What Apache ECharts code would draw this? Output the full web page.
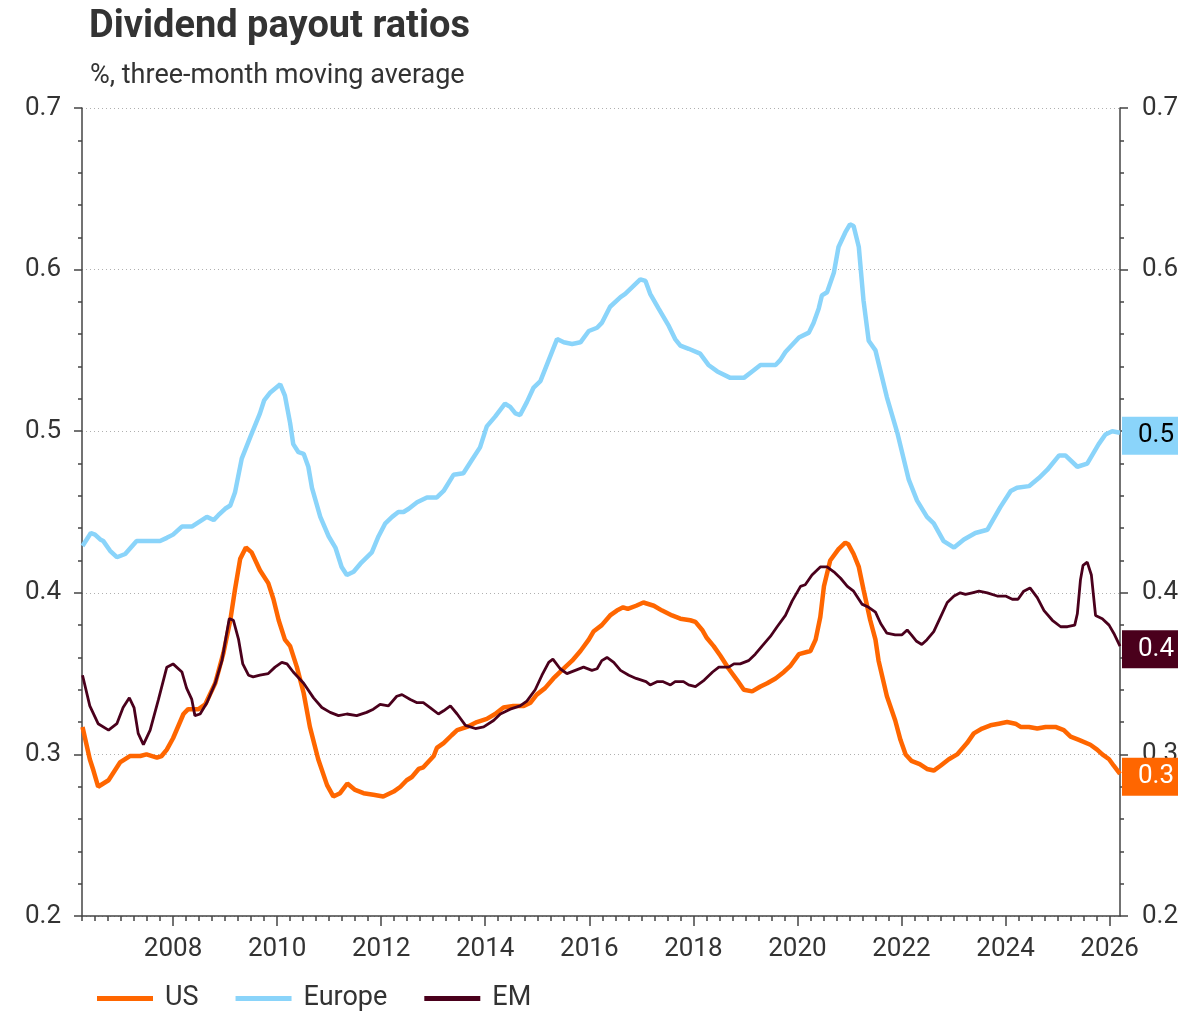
<!DOCTYPE html>
<html>
<head>
<meta charset="utf-8">
<title>Dividend payout ratios</title>
<script src="https://cdn.jsdelivr.net/npm/echarts@6/dist/echarts.min.js"></script>
<style>
  html, body { margin: 0; padding: 0; background: #fff; }
  #chart { width: 1203px; height: 1011px; }
</style>
</head>
<body>
<div id="chart"></div>
<script>
/* Dividend payout ratios, 3m moving average */

var FONT = 'Roboto, "Liberation Sans", sans-serif';

// year labels on the time axis
var yearLabels = [2008, 2010, 2012, 2014, 2016, 2018, 2020, 2022, 2024, 2026];

// US
var usX = [2006.26, 2006.40, 2006.47, 2006.56, 2006.76, 2006.98, 2007.17, 2007.37, 2007.49, 2007.69, 2007.78, 2007.88,
    2008.00, 2008.20, 2008.29, 2008.49, 2008.62, 2008.81, 2008.97, 2009.10, 2009.19, 2009.29, 2009.40, 2009.51,
    2009.67, 2009.83, 2009.93, 2010.03, 2010.15, 2010.25, 2010.38, 2010.51, 2010.63, 2010.79, 2010.96, 2011.08,
    2011.21, 2011.35, 2011.50, 2011.66, 2011.85, 2012.04, 2012.24, 2012.37, 2012.49, 2012.59, 2012.72, 2012.81,
    2013.01, 2013.07, 2013.20, 2013.36, 2013.46, 2013.65, 2013.84, 2014.03, 2014.19, 2014.35, 2014.54, 2014.74,
    2014.87, 2014.99, 2015.15, 2015.31, 2015.47, 2015.67, 2015.83, 2015.99, 2016.08, 2016.24, 2016.40, 2016.53,
    2016.65, 2016.74, 2016.90, 2017.04, 2017.24, 2017.40, 2017.59, 2017.75, 2017.94, 2018.04, 2018.17, 2018.26,
    2018.39, 2018.52, 2018.68, 2018.84, 2018.97, 2019.13, 2019.29, 2019.42, 2019.58, 2019.74, 2019.87, 2020.03,
    2020.25, 2020.35, 2020.44, 2020.51, 2020.63, 2020.79, 2020.92, 2020.98, 2021.08, 2021.18, 2021.27, 2021.40,
    2021.50, 2021.56, 2021.72, 2021.88, 2021.98, 2022.08, 2022.19, 2022.35, 2022.49, 2022.62, 2022.75, 2022.91,
    2023.07, 2023.26, 2023.39, 2023.55, 2023.71, 2023.87, 2024.03, 2024.19, 2024.29, 2024.45, 2024.61, 2024.77,
    2024.96, 2025.12, 2025.25, 2025.41, 2025.63, 2025.76, 2025.86, 2025.99, 2026.08, 2026.20];
var usVals = [0.317, 0.297, 0.290, 0.280, 0.284, 0.295, 0.299, 0.299, 0.300, 0.298, 0.299, 0.303,
    0.310, 0.325, 0.328, 0.328, 0.331, 0.344, 0.363, 0.383, 0.402, 0.421, 0.428, 0.425,
    0.414, 0.406, 0.396, 0.383, 0.371, 0.367, 0.354, 0.338, 0.317, 0.297, 0.281, 0.274,
    0.276, 0.282, 0.278, 0.276, 0.275, 0.274, 0.277, 0.280, 0.284, 0.286, 0.291, 0.292,
    0.299, 0.304, 0.307, 0.312, 0.315, 0.317, 0.320, 0.322, 0.325, 0.329, 0.330, 0.330,
    0.332, 0.337, 0.341, 0.347, 0.352, 0.358, 0.364, 0.371, 0.376, 0.380, 0.386, 0.389,
    0.391, 0.390, 0.392, 0.394, 0.392, 0.389, 0.386, 0.384, 0.383, 0.382, 0.377, 0.372,
    0.367, 0.361, 0.353, 0.346, 0.340, 0.339, 0.342, 0.344, 0.347, 0.351, 0.355, 0.362,
    0.364, 0.371, 0.385, 0.404, 0.420, 0.427, 0.431, 0.430, 0.424, 0.416, 0.402, 0.383,
    0.371, 0.358, 0.336, 0.321, 0.309, 0.300, 0.296, 0.294, 0.291, 0.290, 0.293, 0.297,
    0.300, 0.307, 0.313, 0.316, 0.318, 0.319, 0.320, 0.319, 0.317, 0.317, 0.316, 0.317,
    0.317, 0.315, 0.311, 0.309, 0.306, 0.303, 0.300, 0.297, 0.293, 0.288];

// Europe
var euX = [2006.26, 2006.42, 2006.50, 2006.60, 2006.66, 2006.79, 2006.92, 2007.08, 2007.30, 2007.75, 2007.88, 2008.00,
    2008.17, 2008.36, 2008.65, 2008.78, 2008.87, 2009.00, 2009.10, 2009.19, 2009.32, 2009.48, 2009.67, 2009.75,
    2009.87, 2010.06, 2010.15, 2010.25, 2010.31, 2010.41, 2010.51, 2010.60, 2010.67, 2010.83, 2010.99, 2011.12,
    2011.24, 2011.34, 2011.47, 2011.60, 2011.82, 2011.95, 2012.08, 2012.21, 2012.33, 2012.43, 2012.53, 2012.69,
    2012.88, 2013.07, 2013.20, 2013.39, 2013.58, 2013.74, 2013.90, 2014.03, 2014.19, 2014.38, 2014.48, 2014.58,
    2014.67, 2014.80, 2014.93, 2015.06, 2015.22, 2015.38, 2015.51, 2015.67, 2015.83, 2015.99, 2016.15, 2016.24,
    2016.40, 2016.60, 2016.69, 2016.82, 2016.98, 2017.08, 2017.17, 2017.33, 2017.53, 2017.65, 2017.75, 2017.91,
    2018.13, 2018.29, 2018.46, 2018.71, 2018.97, 2019.13, 2019.29, 2019.58, 2019.67, 2019.77, 2020.03, 2020.22,
    2020.31, 2020.41, 2020.47, 2020.57, 2020.70, 2020.79, 2020.92, 2021.01, 2021.08, 2021.18, 2021.27, 2021.37,
    2021.50, 2021.72, 2021.92, 2022.14, 2022.30, 2022.49, 2022.62, 2022.81, 2023.01, 2023.20, 2023.42, 2023.65,
    2023.90, 2024.10, 2024.22, 2024.45, 2024.64, 2024.80, 2025.03, 2025.15, 2025.38, 2025.57, 2025.79, 2025.92,
    2026.05, 2026.20];
var euVals = [0.429, 0.437, 0.436, 0.433, 0.432, 0.426, 0.422, 0.424, 0.432, 0.432, 0.434, 0.436,
    0.441, 0.441, 0.447, 0.445, 0.448, 0.452, 0.454, 0.462, 0.483, 0.496, 0.511, 0.519,
    0.524, 0.529, 0.522, 0.505, 0.492, 0.487, 0.486, 0.478, 0.465, 0.447, 0.435, 0.428,
    0.416, 0.411, 0.413, 0.418, 0.425, 0.435, 0.443, 0.447, 0.450, 0.450, 0.452, 0.456,
    0.459, 0.459, 0.463, 0.473, 0.474, 0.482, 0.490, 0.503, 0.509, 0.517, 0.515, 0.511,
    0.510, 0.518, 0.527, 0.531, 0.544, 0.557, 0.555, 0.554, 0.555, 0.562, 0.564, 0.567,
    0.577, 0.583, 0.585, 0.589, 0.594, 0.593, 0.585, 0.576, 0.565, 0.557, 0.553, 0.551,
    0.548, 0.541, 0.537, 0.533, 0.533, 0.537, 0.541, 0.541, 0.544, 0.549, 0.558, 0.561,
    0.567, 0.576, 0.584, 0.586, 0.598, 0.614, 0.623, 0.628, 0.627, 0.614, 0.581, 0.556,
    0.550, 0.521, 0.499, 0.470, 0.457, 0.447, 0.443, 0.432, 0.428, 0.433, 0.437, 0.439,
    0.453, 0.463, 0.465, 0.466, 0.471, 0.476, 0.485, 0.485, 0.478, 0.480, 0.492, 0.498,
    0.500, 0.499];

// EM
var emX = [2006.26, 2006.40, 2006.56, 2006.76, 2006.92, 2007.04, 2007.16, 2007.25, 2007.33, 2007.43, 2007.56, 2007.72,
    2007.88, 2008.00, 2008.17, 2008.26, 2008.36, 2008.42, 2008.52, 2008.65, 2008.81, 2008.94, 2009.02, 2009.08,
    2009.16, 2009.26, 2009.34, 2009.45, 2009.54, 2009.67, 2009.83, 2009.96, 2010.09, 2010.19, 2010.31, 2010.51,
    2010.70, 2010.86, 2011.02, 2011.18, 2011.34, 2011.53, 2011.72, 2011.85, 2011.98, 2012.14, 2012.30, 2012.40,
    2012.56, 2012.69, 2012.81, 2012.94, 2013.10, 2013.20, 2013.33, 2013.46, 2013.62, 2013.81, 2013.97, 2014.16,
    2014.29, 2014.48, 2014.67, 2014.80, 2014.96, 2015.09, 2015.22, 2015.30, 2015.44, 2015.57, 2015.73, 2015.89,
    2016.05, 2016.15, 2016.24, 2016.34, 2016.47, 2016.60, 2016.76, 2016.90, 2017.09, 2017.17, 2017.30, 2017.42,
    2017.56, 2017.65, 2017.81, 2017.91, 2018.04, 2018.21, 2018.37, 2018.49, 2018.68, 2018.78, 2018.90, 2019.06,
    2019.19, 2019.32, 2019.48, 2019.61, 2019.77, 2019.90, 2020.06, 2020.15, 2020.28, 2020.44, 2020.57, 2020.70,
    2020.83, 2020.96, 2021.08, 2021.24, 2021.37, 2021.50, 2021.60, 2021.72, 2021.88, 2022.01, 2022.11, 2022.19,
    2022.29, 2022.39, 2022.49, 2022.62, 2022.75, 2022.88, 2023.01, 2023.13, 2023.23, 2023.36, 2023.49, 2023.65,
    2023.84, 2024.00, 2024.13, 2024.24, 2024.35, 2024.47, 2024.61, 2024.74, 2024.90, 2025.06, 2025.19, 2025.33,
    2025.38, 2025.44, 2025.49, 2025.57, 2025.65, 2025.73, 2025.86, 2025.99, 2026.08, 2026.20];
var emVals = [0.349, 0.330, 0.319, 0.315, 0.319, 0.329, 0.335, 0.329, 0.313, 0.306, 0.315, 0.334,
    0.354, 0.356, 0.351, 0.341, 0.334, 0.324, 0.325, 0.332, 0.344, 0.358, 0.373, 0.384,
    0.383, 0.371, 0.356, 0.349, 0.348, 0.349, 0.350, 0.354, 0.357, 0.356, 0.351, 0.344,
    0.335, 0.329, 0.326, 0.324, 0.325, 0.324, 0.326, 0.328, 0.331, 0.330, 0.336, 0.337,
    0.334, 0.332, 0.332, 0.329, 0.325, 0.327, 0.330, 0.325, 0.318, 0.316, 0.317, 0.321,
    0.325, 0.328, 0.330, 0.333, 0.340, 0.349, 0.357, 0.359, 0.353, 0.350, 0.352, 0.354,
    0.352, 0.353, 0.358, 0.360, 0.357, 0.352, 0.349, 0.347, 0.345, 0.343, 0.345, 0.345,
    0.343, 0.345, 0.345, 0.343, 0.342, 0.346, 0.351, 0.354, 0.354, 0.356, 0.356, 0.358,
    0.362, 0.367, 0.373, 0.379, 0.386, 0.395, 0.404, 0.405, 0.411, 0.416, 0.416, 0.413,
    0.409, 0.404, 0.401, 0.393, 0.391, 0.388, 0.381, 0.375, 0.374, 0.374, 0.377, 0.374,
    0.370, 0.368, 0.371, 0.376, 0.385, 0.394, 0.398, 0.400, 0.399, 0.400, 0.401, 0.400,
    0.398, 0.398, 0.396, 0.396, 0.401, 0.403, 0.397, 0.389, 0.383, 0.379, 0.379, 0.380,
    0.387, 0.408, 0.417, 0.419, 0.411, 0.386, 0.384, 0.380, 0.375, 0.367];

var US_COLOR = '#ff6600';
var EU_COLOR = '#8ad4fa';
var EM_COLOR = '#4a001c';

function pairs(xs, ys) {
    var out = [];
    for (var i = 0; i < xs.length; i++) {
        out.push([xs[i], ys[i]]);
    }
    return out;
}

// quarterly minor ticks on the date axis
var quarterTicks = [];
for (var q = 8025; q / 4 <= 2026.2; q++) {
    quarterTicks.push(q / 4);
}

function endLabel(bg, fg) {
    return {
        show: true,
        distance: 2,
        offset: [0, 3],
        formatter: function (p) {
            return p.value[1].toFixed(1);
        },
        backgroundColor: bg,
        color: fg,
        fontFamily: FONT,
        fontSize: 26,
        lineHeight: 30,
        padding: [4, 30, 4, 16]
    };
}

function lineSeries(name, data, color, width, labelFg) {
    return {
        name: name,
        type: 'line',
        data: data,
        showSymbol: false,
        symbol: 'none',
        color: color,
        lineStyle: { color: color, width: width },
        endLabel: endLabel(color, labelFg),
        labelLayout: { hideOverlap: false }
    };
}

var axisColor = '#444';
var textColor = '#333';

function valueAxis(pos) {
    return {
        type: 'value',
        position: pos,
        min: 0.2,
        max: 0.7,
        interval: 0.1,
        axisLine: { show: true, lineStyle: { color: axisColor, width: 1.5 } },
        axisTick: { show: true, length: 8, lineStyle: { color: axisColor, width: 1.5 } },
        minorTick: { show: true, splitNumber: 5, length: 4, lineStyle: { color: axisColor, width: 1.5 } },
        axisLabel: {
            margin: pos === 'left' ? 21 : 22,
            color: textColor,
            fontFamily: FONT,
            fontSize: 26,
            formatter: function (v) { return v.toFixed(1); }
        },
        splitLine: pos === 'left' ? {
            show: true,
            lineStyle: { color: '#b0b0b0', type: [1, 3], width: 1 }
        } : { show: false }
    };
}

var chart = echarts.init(document.getElementById('chart'));

var option = {
    animation: false,
    backgroundColor: '#fff',
    textStyle: { fontFamily: FONT },
    title: [{
        text: 'Dividend payout ratios',
        left: 84,
        top: 3,
        textStyle: { fontFamily: FONT, fontSize: 38, fontWeight: 'bold', color: textColor }
    }, {
        text: '%, three-month moving average',
        left: 85,
        top: 58,
        textStyle: { fontFamily: FONT, fontSize: 27, fontWeight: 'normal', color: textColor }
    }],
    legend: {
        left: 92,
        top: 980,
        icon: 'rect',
        itemWidth: 56,
        itemHeight: 5,
        itemGap: 37,
        textStyle: { fontFamily: FONT, fontSize: 27, color: textColor, padding: [0, 0, 0, 7] },
        data: ['US', 'Europe', 'EM']
    },
    grid: { left: 82, right: 83, top: 108, bottom: 95 },
    xAxis: [{
        type: 'value',
        min: 2006.25,
        max: 2026.2,
        interval: 0.25,
        axisLine: { show: true, onZero: false, lineStyle: { color: axisColor, width: 1.5 } },
        axisTick: { show: true, customValues: quarterTicks, length: 5, lineStyle: { color: axisColor, width: 1.5 } },
        axisLabel: {
            customValues: yearLabels,
            margin: 20,
            color: textColor,
            fontFamily: FONT,
            fontSize: 26,
            formatter: function (v) { return String(Math.round(v)); }
        },
        splitLine: { show: false }
    }, {
        type: 'value',
        position: 'bottom',
        min: 2006.25,
        max: 2026.2,
        interval: 0.25,
        axisLine: { show: false },
        axisTick: { show: true, customValues: yearLabels, length: 10, lineStyle: { color: axisColor, width: 1.5 } },
        axisLabel: { show: false },
        splitLine: { show: false }
    }],
    yAxis: [valueAxis('left'), valueAxis('right')],
    graphic: [{
        // the right edge of the original is cut off
        type: 'rect',
        left: 1178,
        top: 0,
        shape: { width: 30, height: 1011 },
        style: { fill: '#fff' },
        z: 100
    }],
    series: [
        lineSeries('US', pairs(usX, usVals), US_COLOR, 4.5, '#fff'),
        lineSeries('Europe', pairs(euX, euVals), EU_COLOR, 4.5, '#000'),
        lineSeries('EM', pairs(emX, emVals), EM_COLOR, 2.8, '#fff')
    ]
};

chart.setOption(option);
</script>
</body>
</html>
